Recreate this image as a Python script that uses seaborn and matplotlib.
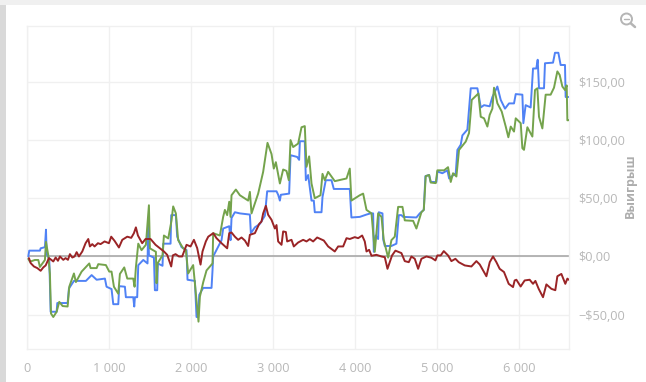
import matplotlib
matplotlib.use("Agg")
import matplotlib.pyplot as plt
import seaborn as sns
import pandas as pd
from matplotlib.patches import Circle, Rectangle
from matplotlib.lines import Line2D

blue_x = [12,24,154,163,215,228,236,268,285,358,366,492,508,569,715,764,785,846,947,967,1028,1049,1110,1122,1191,1203,1293,1305,1313,1341,1354,1415,1467,1476,1484,1545,1557,1585,1593,1650,1659,1748,1756,1813,1829,1882,1943,1955,2045,2065,2085,2098,2146,2248,2260,2268,2370,2390,2464,2480,2492,2533,2594,2716,2728,2777,2838,2899,2927,3041,3061,3082,3094,3195,3212,3293,3317,3326,3386,3399,3427,3468,3496,3508,3590,3602,3642,3712,3740,3935,3955,4057,4139,4187,4220,4228,4252,4281,4289,4334,4342,4362,4443,4504,4533,4565,4586,4748,4789,4838,4858,4903,4923,4992,5004,5065,5126,5147,5228,5248,5289,5309,5370,5411,5492,5512,5533,5573,5642,5675,5736,5777,5829,5878,5939,5960,6041,6053,6081,6142,6171,6211,6228,6244,6305,6317,6415,6439,6480,6508,6561,6569,6602]
blue_y = [0,5,5,7,8,23,2,-2,-47.5,-47.5,-40,-40,-27.5,-21,-21,-17.5,-16,-20,-19,-26,-28,-41,-41,-25.5,-26,-35,-35,-43,-35,-35,-7.5,-3,-6,28,1,-1,-29,-29,-6,-8,11,11,35.5,35.5,17,8,5.5,-20,-21,-52,-52,-33,-27,-27,-12,0,14,24,26,14,33,38,37,36,20,25,28,35,56,56,53,48,53,54,87,85.5,83,99,99,65.5,70,48,48,38,38,51,65.5,65.5,58,58,33.5,34,36,37,37,4,18,15,38,37,15,9,9,11,35.5,35.5,34,33.5,37,40,69,70,64,64,73,71.5,74,67,71.5,91.5,96,104,109,144.5,144.5,137,128,130,129,137,146,134.5,127,131.5,131.5,139.5,139,114.5,130,128,161.5,161.5,169,144.5,144.5,166,166.5,175,175,164.5,164.5,137,137]

green_x = [12,32,93,134,154,215,228,256,276,289,317,358,390,431,492,512,569,593,663,756,772,846,866,959,1000,1028,1057,1110,1130,1183,1220,1293,1309,1325,1354,1394,1447,1484,1496,1569,1577,1589,1650,1667,1720,1760,1780,1813,1841,1902,1935,1963,2024,2065,2089,2106,2147,2187,2260,2268,2350,2390,2411,2439,2464,2480,2492,2545,2594,2695,2716,2736,2817,2878,2931,2980,3008,3033,3082,3122,3163,3191,3212,3244,3305,3346,3386,3407,3439,3468,3508,3578,3602,3630,3671,3752,3895,3935,3955,4057,4098,4139,4200,4228,4240,4281,4322,4350,4403,4443,4484,4525,4578,4606,4708,4748,4809,4838,4862,4903,4923,4984,5004,5086,5134,5167,5195,5236,5268,5350,5390,5423,5504,5533,5573,5614,5642,5675,5695,5736,5789,5838,5870,5899,5939,5960,6021,6041,6061,6102,6163,6195,6224,6244,6285,6325,6386,6427,6468,6496,6529,6561,6582,6590,6602]
green_y = [-2,-4.5,-3,-3,-9,-3,12.5,1,-15,-49,-52,-47.5,-39,-42.6,-43,-26,-14.6,-22,-13,-6,-10,-10,-6.6,-7.4,-13,-13,-26,-32,-15,-9.4,-19,-19,-26,-9.4,11,5.4,10,44,7,4,-23,-6,1,18,15.5,31,43,37,14,7,5.5,-14.6,-7.4,-37.5,-56,-34.6,-22,-12,-6,20,18,34,40,35.5,47,34,52.6,57.5,52.6,48,55.5,37,54,72.7,97.6,88,75.5,81,62.7,74.7,73.5,65.5,100,94,97,111,112,77,86,62.7,50,52.6,71,65.5,72.7,64.7,67,75.5,48,52.6,54,40,37,14,4,37,34,14,-1,14,17,42.6,42.6,31,30.6,24,38,40,69,70,63.5,63,74,74,76.7,64,71.5,68.7,91.5,98.7,106,134.5,140,120,118.7,111.6,121.6,127,145,131.6,124.5,111.6,102.4,111.6,107.3,118.7,114.5,93,91.6,111,103,143,144.5,120,110,139,139,145,159,156,146,143,147,117,117]

red_x = [20,41,81,122,163,195,224,264,293,317,346,374,398,439,467,496,520,549,577,602,630,671,711,744,764,793,821,862,894,943,996,1024,1065,1118,1159,1220,1268,1301,1325,1350,1402,1443,1504,1565,1606,1667,1707,1756,1776,1809,1850,1890,1943,1992,2033,2073,2114,2138,2179,2208,2269,2309,2370,2439,2464,2492,2533,2573,2614,2655,2695,2716,2777,2830,2858,2878,2911,2939,2980,3021,3041,3061,3102,3122,3155,3171,3224,3252,3305,3366,3407,3447,3488,3537,3618,3671,3752,3793,3854,3895,3935,3996,4037,4086,4118,4139,4171,4200,4260,4321,4362,4395,4423,4451,4492,4565,4606,4655,4687,4728,4769,4809,4870,4931,4980,5004,5045,5082,5134,5175,5224,5264,5338,5419,5480,5521,5602,5643,5683,5724,5764,5817,5874,5927,5947,5968,6020,6069,6130,6171,6200,6240,6293,6334,6395,6443,6468,6517,6565,6590,6606]
red_y = [-1.4,-5.7,-8.6,-10,-12.3,-9.4,-7.7,-1.4,-2.9,-4.3,-0.9,-3.7,0,-2.9,-1.4,-2.9,2,-0.9,0,3.7,0,4.3,11.4,15,8.6,10.6,8.6,11.4,10.6,12.9,11.4,17,13.4,7.7,14.3,17,16,20,25,18,11.4,15,15,10,7.7,4.3,1.4,-8.6,0.9,2,0,0,10,8.6,14.3,7.2,-7,4.3,13,17,20,15.7,11.4,7,20,20.6,17,14.3,16.3,13.7,9,18.6,20,28,30,37,43.5,35.8,31.5,24,27,12.9,10,21.5,21,12.9,14.3,8.6,12,14.3,12.9,14.9,12.9,16.3,13.7,8.6,4.3,8.6,8.6,15.7,15,16.6,15.7,18,12.9,4.3,5.7,0.6,1.4,0,-0.6,-10.6,-4.9,0.9,5,2.9,-4,-4.9,0,-2,-10.6,-2,0,-1.1,-3.4,0.9,0.9,4.6,0.9,-4,-2,-4.9,-7.7,-8.6,-4,-6.9,-17,-4.9,0,-4.9,-10.6,-13.4,-23.5,-26.3,-20.6,-20,-25.8,-20.6,-20,-23.5,-21,-27.8,-35,-24,-27.8,-29,-17,-15,-23.5,-19,-20]

x_ticks = [0,1000,2000,3000,4000,5000,6000]
x_labels = ["0","1 000","2 000","3 000","4 000","5 000","6 000"]
y_ticks = [-50,0,50,100,150]
y_labels = ["\u2212$50,00","$0,00","$50,00","$100,00","$150,00"]
y_title = "Выигрыш"

sns.set_theme(style="white")
plt.rcParams['font.family'] = ['Open Sans', 'DejaVu Sans']
W, H = 646, 382
fig = plt.figure(figsize=(W/100, H/100), dpi=100, facecolor="white")
ax = fig.add_axes([27.3/W, (H-349)/H, 541.7/W, 323/H])
ax.set_axisbelow(True)
ax.grid(True, color="#f0f0f0", lw=1)

for xs, ys, col in [(blue_x, blue_y, "#5082f5"),
                    (green_x, green_y, "#74a34c"),
                    (red_x, red_y, "#9a2426")]:
    sns.lineplot(data=pd.DataFrame({"x": xs, "y": ys}), x="x", y="y", sort=False, estimator=None,
                 color=col, lw=1.4, ax=ax, zorder=3)
ax.axhline(0, color="#a8a8a8", lw=1.2, zorder=2)

ax.set_xlim(0, 6610)
ax.set_ylim(-79.5, 198)
ax.set_xticks(x_ticks, x_labels)
ax.set_yticks(y_ticks, y_labels)
ax.yaxis.tick_right()
ax.yaxis.set_label_position("right")
ax.tick_params(length=0, colors="#b8b8b8", labelsize=9.2, pad=7)
ax.tick_params(axis="x", pad=9)
ax.set_xlabel("")
ax.set_ylabel("")
for s in ax.spines.values():
    s.set_color("#f0f0f0")
    s.set_linewidth(1)
fig.text(630/W, 1-186/H, y_title, rotation=90, ha="center", va="center", color="#adadad", fontsize=9, fontweight="bold")

fig.add_artist(Rectangle((0, 0), 6/W, 1, transform=fig.transFigure, fc="#d9d9d9", ec="none"))
fig.add_artist(Rectangle((0, 1-5/H), 1, 5/H, transform=fig.transFigure, fc="#f0f0f0", ec="none"))
# zoom-out icon
t = fig.dpi_scale_trans
fig.add_artist(Circle((626.5/100, (H-19)/100), 0.055, transform=t, fc="none", ec="#b5b5b5", lw=1.4))
fig.add_artist(Line2D([6.31, 6.35], [(H-23.5)/100, (H-27)/100], transform=t, color="#b5b5b5", lw=1.8))
fig.add_artist(Line2D([6.24, 6.29], [(H-19)/100, (H-19)/100], transform=t, color="#b5b5b5", lw=1))

fig.savefig("out.png", dpi=100)
